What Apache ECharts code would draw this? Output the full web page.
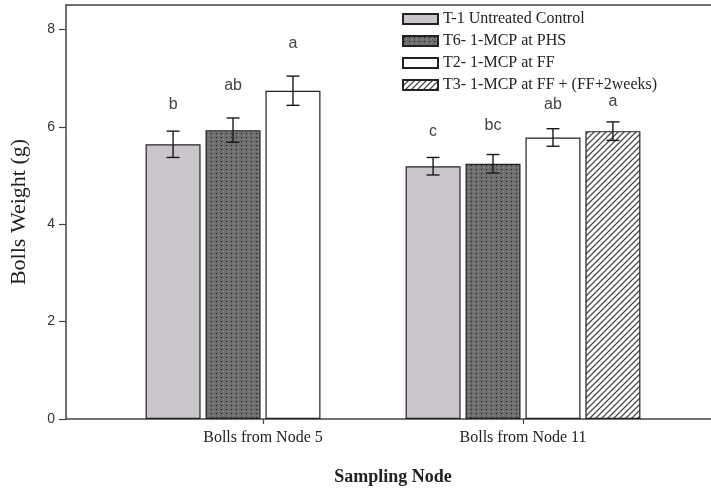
<!DOCTYPE html>
<html>
<head>
<meta charset="utf-8">
<script src="https://cdn.jsdelivr.net/npm/echarts@6/dist/echarts.min.js"></script>
<style>html,body{margin:0;padding:0;background:#fff}#c{width:711px;height:491px}</style>
</head>
<body>
<div id="c"></div>
<script>
// ---- data ----
const categories = ['Bolls from Node 5', 'Bolls from Node 11'];
const seriesNames = ['T-1 Untreated Control', 'T6- 1-MCP at PHS', 'T2- 1-MCP at FF', 'T3- 1-MCP at FF + (FF+2weeks)'];
const t1Mean = [5.64, 5.19];
const t6Mean = [5.93, 5.24];
const t2Mean = [6.74, 5.78];
const t3Mean = [null, 5.91];
const t1Err = [0.27, 0.18];
const t6Err = [0.25, 0.19];
const t2Err = [0.30, 0.18];
const t3Err = [null, 0.19];
const t1Letter = ['b', 'c'];
const t6Letter = ['ab', 'bc'];
const t2Letter = ['a', 'ab'];
const t3Letter = [null, 'a'];
// letter heights (data units)
const t1LetterY = [6.45, 5.91];
const t6LetterY = [6.84, 6.02];
const t2LetterY = [7.70, 6.45];
const t3LetterY = [null, 6.52];
const yTicks = [0, 2, 4, 6, 8];

const means = [t1Mean, t6Mean, t2Mean, t3Mean];
const errs = [t1Err, t6Err, t2Err, t3Err];
const letters = [t1Letter, t6Letter, t2Letter, t3Letter];
const letterYs = [t1LetterY, t6LetterY, t2LetterY, t3LetterY];

// ---- patterns ----
function dotPattern() {
  const c = document.createElement('canvas');
  c.width = 5; c.height = 4;
  const g = c.getContext('2d');
  g.fillStyle = '#6e6e6e'; g.fillRect(0, 0, 5, 4);
  g.fillStyle = '#1a1a1a'; g.fillRect(1, 1, 1, 1);
  g.fillStyle = '#8c8c8c'; g.fillRect(3, 3, 1, 1);
  return c;
}
function hatchPattern() {
  const c = document.createElement('canvas');
  c.width = 6; c.height = 6;
  const g = c.getContext('2d');
  g.fillStyle = '#ffffff'; g.fillRect(0, 0, 6, 6);
  g.strokeStyle = '#4a4a4a'; g.lineWidth = 1.3;
  g.beginPath();
  g.moveTo(-1, 7); g.lineTo(7, -1);
  g.moveTo(-4, 4); g.lineTo(4, -4);
  g.moveTo(2, 10); g.lineTo(10, 2);
  g.stroke();
  return c;
}
const fills = [
  '#c9c5ca',
  { image: dotPattern(), repeat: 'repeat' },
  '#ffffff',
  { image: hatchPattern(), repeat: 'repeat' }
];

const BAR_W = 55;
const GAP_PCT = 9;
const stride = BAR_W * (1 + GAP_PCT / 100);

const barSeries = seriesNames.map((n, i) => ({
  name: n,
  type: 'bar',
  xAxisIndex: 1, yAxisIndex: 1,
  barWidth: BAR_W,
  barGap: GAP_PCT + '%',
  data: means[i].map(v => v == null ? '-' : v),
  itemStyle: { color: fills[i], borderColor: '#222', borderWidth: 1.2 },
  silent: true
}));

const errData = [];
for (let s = 0; s < 4; s++) {
  for (let c = 0; c < categories.length; c++) {
    if (means[s][c] == null) continue;
    errData.push([c, s, means[s][c], errs[s][c], letterYs[s][c], letters[s][c]]);
  }
}

const errSeries = {
  type: 'custom',
  xAxisIndex: 1, yAxisIndex: 1,
  data: errData,
  z: 5,
  silent: true,
  renderItem: function (params, api) {
    const c = api.value(0), s = api.value(1), m = api.value(2), e = api.value(3), ly = api.value(4);
    const letter = errData[params.dataIndex][5];
    const off = (s - 1.5) * stride;
    const hi = api.coord([c, m + e]);
    const lo = api.coord([c, m - e]);
    const lp = api.coord([c, ly]);
    const x = hi[0] + off;
    const cap = 6.5;
    const st = { stroke: '#1a1a1a', lineWidth: 1.4 };
    return {
      type: 'group',
      children: [
        { type: 'line', shape: { x1: x, y1: hi[1], x2: x, y2: lo[1] }, style: st },
        { type: 'line', shape: { x1: x - cap, y1: hi[1], x2: x + cap, y2: hi[1] }, style: st },
        { type: 'line', shape: { x1: x - cap, y1: lo[1], x2: x + cap, y2: lo[1] }, style: st },
        { type: 'text', x: x, y: lp[1], style: { text: letter, fill: '#444', font: '16px "Liberation Sans", Arial, sans-serif', align: 'center', verticalAlign: 'middle' } }
      ]
    };
  }
};

const chart = echarts.init(document.getElementById('c'), null, { renderer: 'canvas' });
chart.setOption({
  animation: false,
  backgroundColor: '#ffffff',
  legend: {
    data: seriesNames.map(n => ({ name: n, icon: 'rect' })),
    orient: 'vertical',
    left: 397, top: 6,
    itemWidth: 35, itemHeight: 10, itemGap: 6,
    selectedMode: false,
    textStyle: { fontFamily: '"Liberation Serif", "Times New Roman", serif', fontSize: 16, color: '#222' }
  },
  grid: [
    { left: 66, top: 5, right: 0, bottom: 72, containLabel: false },
    { left: 133, top: 5, right: 58, bottom: 72, containLabel: false }
  ],
  xAxis: [
    { type: 'value', gridIndex: 0, min: 0, max: 1, position: 'bottom',
      axisLine: { show: true, onZero: false, lineStyle: { color: '#444', width: 1.5 } },
      axisTick: { show: false }, axisLabel: { show: false }, splitLine: { show: false } },
    { type: 'category', gridIndex: 1, data: categories,
      axisLine: { show: false },
      axisTick: { show: true, alignWithLabel: true, length: 5, lineStyle: { color: '#444', width: 1.2 } },
      axisLabel: { margin: 11, fontFamily: '"Liberation Serif", "Times New Roman", serif', fontSize: 16, color: '#222' },
      name: 'Sampling Node', nameLocation: 'middle', nameGap: 49,
      nameTextStyle: { fontFamily: '"Liberation Serif", "Times New Roman", serif', fontSize: 18, fontWeight: 'bold', color: '#222' },
      splitLine: { show: false } },
    { type: 'value', gridIndex: 0, min: 0, max: 1, position: 'top',
      axisLine: { show: true, onZero: false, lineStyle: { color: '#444', width: 1.5 } },
      axisTick: { show: false }, axisLabel: { show: false }, splitLine: { show: false } }
  ],
  yAxis: [
    { type: 'value', gridIndex: 0, min: 0, max: 8.5, interval: 2,
      axisLine: { show: true, onZero: false, lineStyle: { color: '#444', width: 1.5 } },
      axisTick: { show: true, length: 7, customValues: yTicks, lineStyle: { color: '#444', width: 1.2 } },
      axisLabel: { customValues: yTicks, margin: 11, fontFamily: '"Liberation Sans", Arial, sans-serif', fontSize: 14, color: '#333' },
      splitLine: { show: false },
      name: 'Bolls Weight (g)', nameLocation: 'middle', nameGap: 36,
      nameTextStyle: { fontFamily: '"Liberation Serif", "Times New Roman", serif', fontSize: 22, color: '#222' } },
    { type: 'value', gridIndex: 1, min: 0, max: 8.5, show: false, splitLine: { show: false } }
  ],
  series: barSeries.concat([errSeries])
});
</script>
</body>
</html>
